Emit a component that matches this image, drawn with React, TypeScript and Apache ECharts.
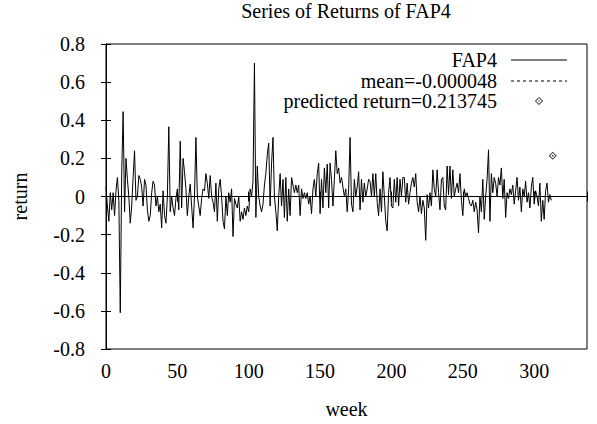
import React, { useEffect, useRef } from "react";
import * as echarts from "echarts";

// Weekly returns of FAP4 (week 0 .. 312)
const returns: number[] = [
  0.05, -0.05, -0.13, 0.02, -0.07, 0.02, -0.1, 0.03, 0.1, -0.02,
  -0.61, 0.12, 0.445, -0.08, 0.2, 0.09, 0, -0.14, -0.05, 0.1,
  0.24, -0.02, 0, 0.11, 0.09, 0.05, -0.05, 0.09, 0.06, -0.07,
  -0.13, -0.1, 0.02, 0.08, 0.06, -0.05, 0, -0.08, -0.04, -0.165,
  0.03, -0.1, -0.14, 0, 0.366, -0.08, 0, -0.06, -0.1, -0.01,
  0.04, -0.07, 0.29, -0.06, 0.2, 0.13, 0.04, -0.1, 0, 0.065,
  -0.05, -0.165, 0, 0.31, 0, -0.05, -0.1, -0.01, 0.04, 0.03,
  0.12, 0.07, -0.01, 0.11, 0, -0.03, -0.08, 0.07, -0.13, 0.04,
  0.09, 0, -0.13, -0.17, 0, -0.1, 0.02, -0.03, 0.04, -0.21,
  -0.01, -0.04, -0.06, 0, -0.13, -0.08, -0.12, -0.06, -0.1, -0.05,
  -0.08, 0.04, 0, 0.08, 0.7, -0.11, 0.16, 0, -0.05, -0.08,
  -0.04, 0.06, 0.12, 0.22, 0.28, -0.05, 0.175, 0.31, 0, -0.08,
  -0.18, 0, 0.12, -0.05, 0.09, -0.11, 0.1, -0.13, 0.04, -0.1,
  0.1, 0.06, 0.02, 0.06, 0.02, 0.06, -0.1, 0.04, -0.01, 0.02,
  -0.01, 0.02, -0.04, 0, -0.09, 0.04, 0.09, 0, 0.12, 0.175,
  -0.09, 0.09, -0.06, 0.15, 0.02, 0.17, -0.06, 0.175, 0.09, -0.05,
  0.09, 0.24, 0.12, 0.15, 0.07, 0.1, 0.05, 0, 0.04, -0.08,
  0.04, 0.31, -0.04, -0.08, 0.09, 0, 0.05, 0.13, -0.07, 0.09,
  -0.03, 0.07, 0, 0.04, 0.09, 0.08, 0, 0.12, 0, 0.12,
  -0.03, -0.1, 0.04, -0.08, 0.13, 0, -0.13, -0.18, 0.02, 0.1,
  -0.05, -0.06, 0.09, -0.03, 0.1, -0.05, 0.09, 0, 0.1, 0.1,
  -0.03, 0.07, -0.04, 0.02, 0.07, 0.1, 0.05, 0.12, -0.03, -0.08,
  0, -0.09, -0.02, -0.06, -0.23, 0.01, -0.06, 0.02, -0.05, 0.14,
  0.04, 0, 0.14, 0.02, -0.07, 0.09, 0.1, -0.05, -0.07, 0.16,
  0.01, 0.16, -0.01, 0.14, 0, 0.04, 0.07, 0.02, 0.12, -0.02,
  -0.1, 0.04, 0, 0.02, -0.01, -0.04, -0.05, -0.02, -0.08, -0.03,
  -0.07, -0.19, 0, -0.08, 0.09, -0.12, 0, 0.09, 0.245, -0.13,
  0.12, 0.02, 0.1, 0.07, 0, 0.1, 0.06, 0.15, -0.01, 0.09,
  -0.11, 0.02, -0.01, 0.04, 0.01, 0.06, -0.04, 0.03, 0.1, -0.02,
  0.05, -0.08, 0.04, 0, 0.08, -0.03, 0.02, -0.06, 0.05, 0.1,
  -0.04, 0.03, 0, -0.05, 0.07, -0.13, -0.02, -0.12, 0.03, 0.07,
  -0.03, 0.01, -0.02,
];

const meanReturn = -0.000048;
const predictedWeek = 313;
const predictedReturn = 0.213745;

const seriesName = "FAP4";
const meanLabel = "mean=-0.000048";
const predictedLabel = "predicted return=0.213745";
const titleText = "Series of Returns of FAP4";

const FONT = "'Liberation Serif', 'DejaVu Serif', serif";
const FS = 20;

const diamondPath =
  "path://M0,-4L4,0L0,4L-4,0Z M0,-2.7L-2.7,0L0,2.7L2.7,0Z M-0.7,-0.7L0.7,-0.7L0.7,0.7L-0.7,0.7Z";

export default function App() {
  const ref = useRef<HTMLDivElement>(null);

  useEffect(() => {
    document.body.style.margin = "0";
    if (!ref.current) return;
    const chart = echarts.init(ref.current, undefined, { renderer: "svg" });

    const lineData = returns.map((v, i) => [i, v]);
    const axisText = { color: "#000", fontFamily: FONT, fontSize: FS };

    const legendRows = [60, 81, 101];
    const textRight = 497;
    const sampleL = 511;
    const sampleR = 567;

    chart.setOption({
      animation: false,
      backgroundColor: "#fff",
      grid: {
        left: 106,
        right: 10,
        top: 44,
        bottom: 66,
        show: true,
        borderColor: "#000",
        borderWidth: 1,
        backgroundColor: "transparent",
      },
      xAxis: [
        {
          type: "value",
          min: 0,
          max: 337,
          interval: 50,
          name: "week",
          nameLocation: "middle",
          nameGap: 50,
          nameTextStyle: axisText,
          axisLine: { show: true, lineStyle: { color: "#000" } },
          axisTick: { show: true, inside: true, length: 5, lineStyle: { color: "#000" } },
          axisLabel: {
            ...axisText,
            margin: 12,
            formatter: (v: number) => (v % 50 === 0 ? String(v) : ""),
          },
          splitLine: { show: false },
        },
        {
          type: "value",
          position: "top",
          min: 0,
          max: 337,
          interval: 50,
          axisLine: { show: true, lineStyle: { color: "#000" } },
          axisTick: { show: true, inside: true, length: 5, lineStyle: { color: "#000" } },
          axisLabel: { show: false },
          splitLine: { show: false },
        },
      ],
      yAxis: [
        {
          type: "value",
          min: -0.8,
          max: 0.8,
          interval: 0.2,
          name: "return",
          nameLocation: "middle",
          nameGap: 76,
          nameRotate: 90,
          nameTextStyle: axisText,
          axisLine: { show: true, lineStyle: { color: "#000" } },
          axisTick: { show: true, inside: true, length: 5, lineStyle: { color: "#000" } },
          axisLabel: {
            ...axisText,
            margin: 21,
            formatter: (v: number) => String(Math.round(v * 10) / 10),
          },
          splitLine: { show: false },
        },
        {
          type: "value",
          position: "right",
          min: -0.8,
          max: 0.8,
          interval: 0.2,
          axisLine: { show: true, lineStyle: { color: "#000" } },
          axisTick: { show: true, inside: true, length: 5, lineStyle: { color: "#000" } },
          axisLabel: { show: false },
          splitLine: { show: false },
        },
      ],
      series: [
        {
          name: seriesName,
          type: "line",
          data: lineData,
          symbol: "none",
          lineStyle: { color: "#000", width: 1 },
          markLine: {
            silent: true,
            symbol: "none",
            label: { show: false },
            lineStyle: { color: "#000", width: 1, type: [3, 3] },
            data: [{ yAxis: meanReturn }],
          },
          z: 3,
        },
        {
          name: predictedLabel,
          type: "scatter",
          data: [[predictedWeek, predictedReturn]],
          symbol: diamondPath,
          symbolSize: 8,
          itemStyle: { color: "#000" },
          z: 4,
        },
      ],
      graphic: [
        {
          type: "text",
          x: 346,
          y: 11,
          style: {
            text: titleText,
            fill: "#000",
            font: `${FS}px ${FONT}`,
            textAlign: "center",
            textVerticalAlign: "middle",
          },
        },
        ...[seriesName, meanLabel, predictedLabel].map((t, i) => ({
          type: "text",
          x: textRight,
          y: legendRows[i],
          style: {
            text: t,
            fill: "#000",
            font: `${FS}px ${FONT}`,
            textAlign: "right",
            textVerticalAlign: "middle",
          },
        })),
        {
          type: "line",
          shape: { x1: sampleL, y1: legendRows[0], x2: sampleR, y2: legendRows[0] },
          style: { stroke: "#000", lineWidth: 1 },
        },
        {
          type: "line",
          shape: { x1: sampleL, y1: legendRows[1], x2: sampleR, y2: legendRows[1] },
          style: { stroke: "#000", lineWidth: 1, lineDash: [3, 3] },
        },
        {
          type: "polygon",
          shape: {
            points: [
              [539, legendRows[2] - 3.5],
              [542.5, legendRows[2]],
              [539, legendRows[2] + 3.5],
              [535.5, legendRows[2]],
            ],
          },
          style: { fill: "#fff", stroke: "#000", lineWidth: 1 },
        },
        {
          type: "rect",
          shape: { x: 538.4, y: legendRows[2] - 0.6, width: 1.2, height: 1.2 },
          style: { fill: "#000" },
        },
      ],
    });

    return () => chart.dispose();
  }, []);

  return <div ref={ref} style={{ width: 597, height: 424 }} />;
}
